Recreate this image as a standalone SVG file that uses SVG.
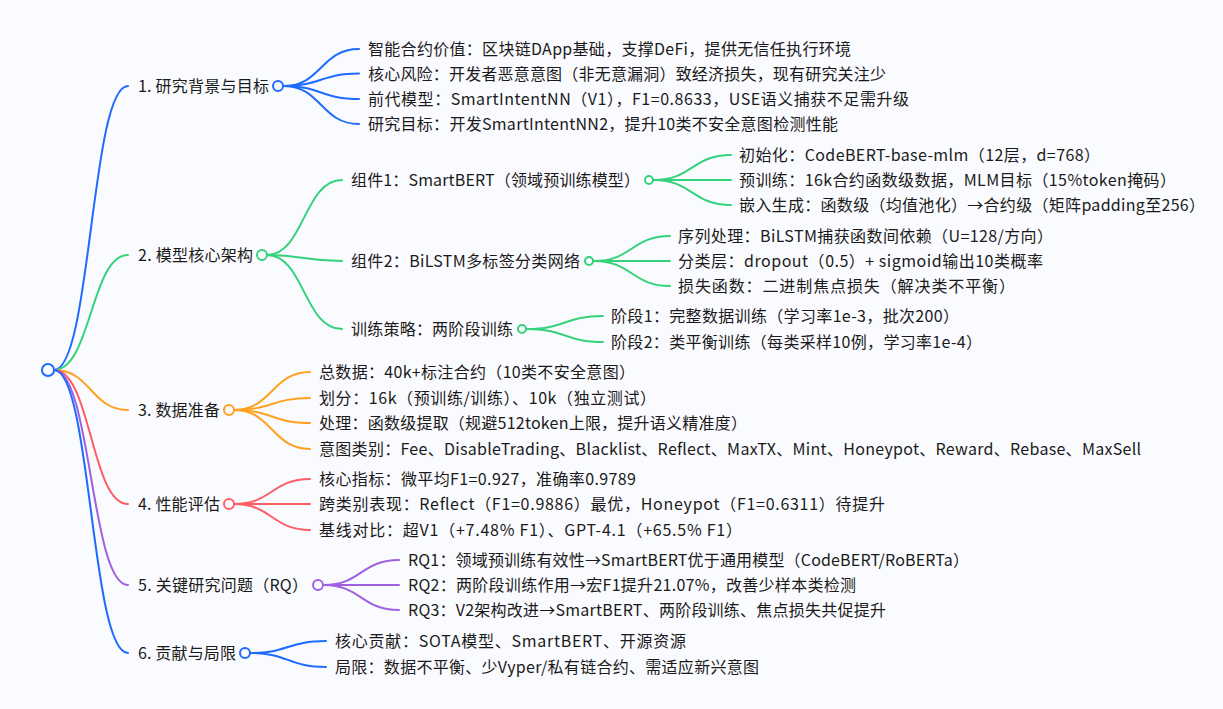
<svg xmlns="http://www.w3.org/2000/svg" width="1223" height="709" viewBox="0 0 1223 709">
<style>
text{font-family:"Noto Sans CJK SC","Noto Sans",sans-serif;font-size:16px;fill:#1a1a1a;dominant-baseline:central;transform:translateY(-1px)}
.c path{fill:none;stroke-width:2;stroke-linecap:round}
circle{fill:#fafbfe;stroke-width:2}
.b{stroke:#1e6bff}.g{stroke:#34d27b}.o{stroke:#ffa01e}.r{stroke:#ff5d65}.p{stroke:#a060e0}
</style>
<rect width="1223" height="709" fill="#fafbfe"/>
<g id="connectors" class="c">
<path class="b" d="M54 370C91 370 91 86 128 86"/>
<path class="g" d="M54 370C91 370 91 255 128 255"/>
<path class="o" d="M54 370C91 370 91 410 128 410"/>
<path class="r" d="M54 370C91 370 91 504 128 504"/>
<path class="p" d="M54 370C91 370 91 585 128 585"/>
<path class="b" d="M54 370C91 370 91 653 128 653"/>
<path class="b" d="M284 86C321 86 321 49 359 49"/>
<path class="b" d="M284 86C321 86 321 73.500 359 73.500"/>
<path class="b" d="M284 86C321 86 321 99 359 99"/>
<path class="b" d="M284 86C321 86 321 124 359 124"/>
<path class="g" d="M267 255C304 255 304 180 342 180"/>
<path class="g" d="M267 255C304 255 304 261 342 261"/>
<path class="g" d="M267 255C304 255 304 329 342 329"/>
<path class="g" d="M654 180C692 180 692 155 731 155"/>
<path class="g" d="M654 180C692 180 692 180 731 180"/>
<path class="g" d="M654 180C692 180 692 205 731 205"/>
<path class="g" d="M594 261C632 261 632 236 670 236"/>
<path class="g" d="M594 261C632 261 632 261 670 261"/>
<path class="g" d="M594 261C632 261 632 286 670 286"/>
<path class="g" d="M527 329C565 329 565 316 603 316"/>
<path class="g" d="M527 329C565 329 565 342 603 342"/>
<path class="o" d="M234 410C272 410 272 372 310 372"/>
<path class="o" d="M234 410C272 410 272 398 310 398"/>
<path class="o" d="M234 410C272 410 272 423 310 423"/>
<path class="o" d="M234 410C272 410 272 449 310 449"/>
<path class="r" d="M234 504C272 504 272 479 310 479"/>
<path class="r" d="M234 504C272 504 272 504 310 504"/>
<path class="r" d="M234 504C272 504 272 530 310 530"/>
<path class="p" d="M324 585C361 585 361 560 399 560"/>
<path class="p" d="M324 585C361 585 361 585 399 585"/>
<path class="p" d="M324 585C361 585 361 610 399 610"/>
<path class="b" d="M251 653C288 653 288 641 326 641"/>
<path class="b" d="M251 653C288 653 288 667 326 667"/>
</g>
<g id="root"><circle class="b" cx="48" cy="370" r="6"/></g>
<g id="n1"><text x="138" y="86" textLength="131">1. 研究背景与目标</text><circle class="b" cx="278" cy="86" r="5"/></g>
<g id="n1-1"><text x="368" y="49" textLength="483">智能合约价值：区块链DApp基础，支撑DeFi，提供无信任执行环境</text></g>
<g id="n1-2"><text x="368" y="74" textLength="518">核心风险：开发者恶意意图（非无意漏洞）致经济损失，现有研究关注少</text></g>
<g id="n1-3"><text x="368" y="99" textLength="541">前代模型：SmartIntentNN（V1），F1=0.8633，USE语义捕获不足需升级</text></g>
<g id="n1-4"><text x="368" y="124" textLength="470">研究目标：开发SmartIntentNN2，提升10类不安全意图检测性能</text></g>
<g id="n2"><text x="138" y="255" textLength="115">2. 模型核心架构</text><circle class="g" cx="262" cy="255" r="5"/></g>
<g id="n2-1"><text x="351" y="180" textLength="289">组件1：SmartBERT（领域预训练模型）</text><circle class="g" cx="649" cy="180" r="4"/></g>
<g id="n2-1-1"><text x="739" y="155" textLength="361">初始化：CodeBERT-base-mlm（12层，d=768）</text></g>
<g id="n2-1-2"><text x="739" y="180" textLength="437">预训练：16k合约函数级数据，MLM目标（15%token掩码）</text></g>
<g id="n2-1-3"><text x="739" y="205" textLength="466">嵌入生成：函数级（均值池化）→合约级（矩阵padding至256）</text></g>
<g id="n2-2"><text x="351" y="261" textLength="229">组件2：BiLSTM多标签分类网络</text><circle class="g" cx="589" cy="261" r="4"/></g>
<g id="n2-2-1"><text x="678" y="236" textLength="375">序列处理：BiLSTM捕获函数间依赖（U=128/方向）</text></g>
<g id="n2-2-2"><text x="678" y="261" textLength="365">分类层：dropout（0.5）+ sigmoid输出10类概率</text></g>
<g id="n2-2-3"><text x="678" y="286" textLength="337">损失函数：二进制焦点损失（解决类不平衡）</text></g>
<g id="n2-3"><text x="351" y="329" textLength="162">训练策略：两阶段训练</text><circle class="g" cx="522" cy="329" r="4"/></g>
<g id="n2-3-1"><text x="611" y="316" textLength="348">阶段1：完整数据训练（学习率1e-3，批次200）</text></g>
<g id="n2-3-2"><text x="611" y="342" textLength="371">阶段2：类平衡训练（每类采样10例，学习率1e-4）</text></g>
<g id="n3"><text x="138" y="410" textLength="82">3. 数据准备</text><circle class="o" cx="229" cy="410" r="5"/></g>
<g id="n3-1"><text x="319" y="372" textLength="316">总数据：40k+标注合约（10类不安全意图）</text></g>
<g id="n3-2"><text x="319" y="398" textLength="337">划分：16k（预训练/训练）、10k（独立测试）</text></g>
<g id="n3-3"><text x="319" y="423" textLength="428">处理：函数级提取（规避512token上限，提升语义精准度）</text></g>
<g id="n3-4"><text x="319" y="449" textLength="822">意图类别：Fee、DisableTrading、Blacklist、Reflect、MaxTX、Mint、Honeypot、Reward、Rebase、MaxSell</text></g>
<g id="n4"><text x="138" y="504" textLength="82">4. 性能评估</text><circle class="r" cx="229" cy="504" r="5"/></g>
<g id="n4-1"><text x="319" y="479" textLength="317">核心指标：微平均F1=0.927，准确率0.9789</text></g>
<g id="n4-2"><text x="319" y="504" textLength="566">跨类别表现：Reflect（F1=0.9886）最优，Honeypot（F1=0.6311）待提升</text></g>
<g id="n4-3"><text x="319" y="530" textLength="423">基线对比：超V1（+7.48% F1）、GPT-4.1（+65.5% F1）</text></g>
<g id="n5"><text x="138" y="585" textLength="170">5. 关键研究问题（RQ）</text><circle class="p" cx="318" cy="585" r="5"/></g>
<g id="n5-1"><text x="408" y="560" textLength="561">RQ1：领域预训练有效性→SmartBERT优于通用模型（CodeBERT/RoBERTa）</text></g>
<g id="n5-2"><text x="408" y="585" textLength="448">RQ2：两阶段训练作用→宏F1提升21.07%，改善少样本类检测</text></g>
<g id="n5-3"><text x="408" y="610" textLength="478">RQ3：V2架构改进→SmartBERT、两阶段训练、焦点损失共促提升</text></g>
<g id="n6"><text x="138" y="653" textLength="98">6. 贡献与局限</text><circle class="b" cx="245" cy="653" r="5"/></g>
<g id="n6-1"><text x="335" y="641" textLength="351">核心贡献：SOTA模型、SmartBERT、开源资源</text></g>
<g id="n6-2"><text x="335" y="667" textLength="424">局限：数据不平衡、少Vyper/私有链合约、需适应新兴意图</text></g>
</svg>
